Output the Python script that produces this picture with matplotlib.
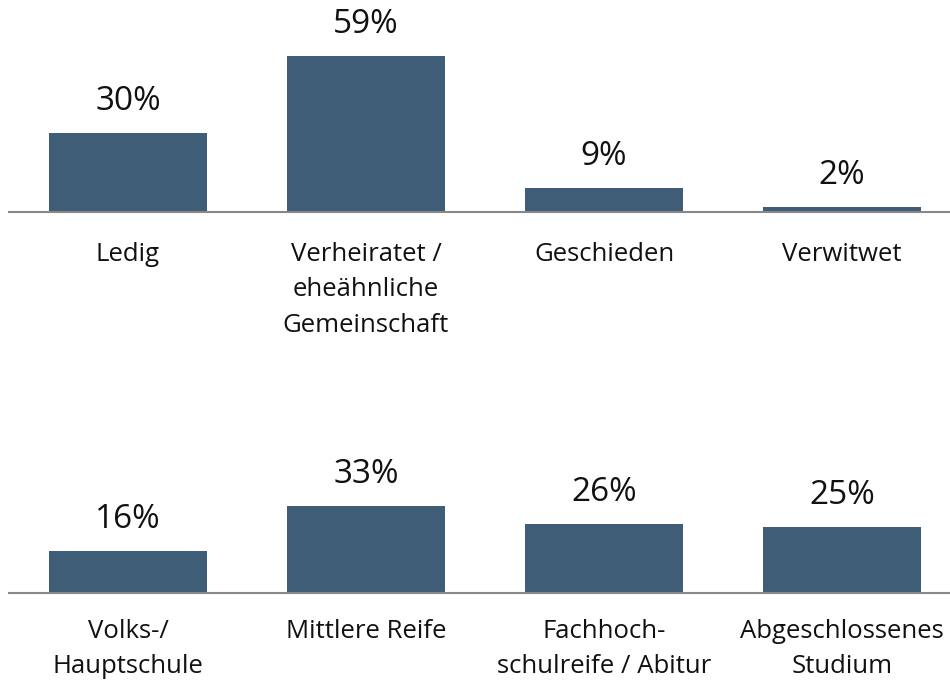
import matplotlib
matplotlib.use("Agg")
import matplotlib.pyplot as plt
from matplotlib.transforms import offset_copy

# Data
family_categories = ["Ledig", "Verheiratet /\neheähnliche\nGemeinschaft", "Geschieden", "Verwitwet"]
family_values = [30, 59, 9, 2]
education_categories = ["Volks-/\nHauptschule", "Mittlere Reife", "Fachhoch-\nschulreife / Abitur", "Abgeschlossenes\nStudium"]
education_values = [16, 33, 26, 25]

BAR_COLOR = "#3F5D76"
AXIS_COLOR = "#888888"
FONT = ["Open Sans", "DejaVu Sans"]

W, H = 950, 681
DPI = 100
PX_PER_PCT = 2.64

fig = plt.figure(figsize=(W / DPI, H / DPI), dpi=DPI)
fig.patch.set_facecolor("white")


def make_panel(baseline_px, height_px, cats, vals, label_gap_px):
    left_px, right_px = 9, 961
    ax = fig.add_axes([left_px / W, (H - baseline_px) / H,
                       (right_px - left_px) / W, height_px / H])
    x = list(range(len(cats)))
    ax.bar(x, vals, width=0.667, color=BAR_COLOR)
    ax.set_xlim(-0.5, len(cats) - 0.5)
    ax.set_ylim(0, height_px / PX_PER_PCT)
    for s in ["top", "right", "left"]:
        ax.spines[s].set_visible(False)
    ax.spines["bottom"].set_color(AXIS_COLOR)
    ax.spines["bottom"].set_linewidth(1.5)
    ax.set_xticks([])
    ax.set_yticks([])
    ax.patch.set_alpha(0)
    up = offset_copy(ax.transData, fig=fig, x=0, y=23, units="dots")
    for xi, v in zip(x, vals):
        ax.text(xi, v, f"{v}%", transform=up, ha="center", va="baseline",
                fontsize=24, family=FONT, color="#111111")
    down = offset_copy(ax.transData, fig=fig, x=0, y=-label_gap_px, units="dots")
    for xi, c in zip(x, cats):
        ax.text(xi, 0, c, transform=down, ha="center", va="top",
                fontsize=18.5, family=FONT, color="#111111", linespacing=1.55)
    return ax


make_panel(212, 212, family_categories, family_values, 30)
make_panel(593, 200, education_categories, education_values, 26)

fig.savefig("out.png", dpi=DPI, facecolor="white")
